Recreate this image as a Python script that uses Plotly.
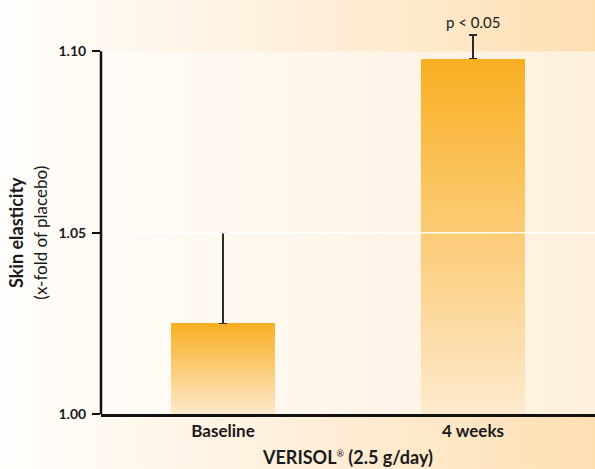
import base64
import plotly.graph_objects as go

# ---- data ----
CATEGORIES = ["Baseline", "4 weeks"]
VALUES = [1.025, 1.098]
ERR_PLUS = [0.025, 0.0065]
Y_TICKS = [1.00, 1.05, 1.10]
Y_TICK_LABELS = ["1.00", "1.05", "1.10"]
P_LABEL = "p < 0.05"
BASE = 1.0

FONT = "Lato"
TXT = "#1a1a1a"

def svg_gradient(stops, horizontal=True):
    x2, y2 = ("1", "0") if horizontal else ("0", "1")
    st = "".join(f'<stop offset="{o}" stop-color="{c}"/>' for o, c in stops)
    svg = (f'<svg xmlns="http://www.w3.org/2000/svg" width="100" height="100" '
           f'preserveAspectRatio="none"><defs><linearGradient id="g" x1="0" y1="0" '
           f'x2="{x2}" y2="{y2}">{st}</linearGradient></defs>'
           f'<rect width="100" height="100" fill="url(#g)"/></svg>')
    return "data:image/svg+xml;base64," + base64.b64encode(svg.encode()).decode()

def lerp(c1, c2, t):
    a = [int(c1[i:i+2], 16) for i in (1, 3, 5)]
    b = [int(c2[i:i+2], 16) for i in (1, 3, 5)]
    return "rgb(%d,%d,%d)" % tuple(round(a[i] + (b[i] - a[i]) * t) for i in range(3))

W, H = 595, 469
ML, MR, MT, MB = 101, 0, 15, 55
PW, PH = W - ML - MR, H - MT - MB

BAR_W = 0.416
TOP_C, BOT_C = "#f9af22", "#fde9cd"
N = 60

fig = go.Figure()
heights = [v - BASE for v in VALUES]
for k in range(N):
    t = (k + 0.5) / N
    fig.add_trace(go.Bar(
        x=CATEGORIES, y=[h / N for h in heights],
        base=[BASE + h * k / N for h in heights],
        width=BAR_W, marker=dict(color=lerp(BOT_C, TOP_C, t), line=dict(width=0)),
        hoverinfo="skip", showlegend=False))

fig.add_trace(go.Bar(
    x=CATEGORIES, y=heights, base=[BASE] * len(VALUES), width=BAR_W,
    marker=dict(color="rgba(0,0,0,0)", line=dict(width=0)), showlegend=False,
    error_y=dict(type="data", symmetric=False, array=ERR_PLUS,
                 arrayminus=[0] * len(VALUES), color="#2a2a2a",
                 thickness=1.5, width=4)))

fig.add_annotation(x=CATEGORIES[1], y=VALUES[1] + ERR_PLUS[1], xref="x", yref="y",
                   text=P_LABEL, showarrow=False, yanchor="bottom", yshift=2,
                   font=dict(family=FONT, size=15, color=TXT))

# y title
fig.add_annotation(xref="paper", yref="y", x=-(ML - 28) / PW, y=Y_TICKS[1],
                   xanchor="center", yanchor="middle", textangle=-90, showarrow=False,
                   text="<b>Skin elasticity</b><br><span style='font-size:17px'>(x-fold of placebo)</span>",
                   font=dict(family=FONT, size=18, color=TXT))

# y axis line (only from first to last tick) and white 1.05 gridline above bars
fig.add_shape(type="line", xref="x domain", yref="y", x0=0, x1=0,
              y0=Y_TICKS[0], y1=Y_TICKS[-1], line=dict(color="#111111", width=2.5),
              layer="above")
fig.add_shape(type="line", xref="x domain", yref="y", x0=0.004, x1=1,
              y0=Y_TICKS[1], y1=Y_TICKS[1], line=dict(color="rgba(255,255,255,0.9)", width=1.5),
              layer="above")

fig.update_layout(
    width=W, height=H, margin=dict(l=ML, r=MR, t=MT, b=MB, pad=0, autoexpand=False),
    paper_bgcolor="#ffffff", plot_bgcolor="rgba(0,0,0,0)",
    barmode="overlay", bargap=0, showlegend=False,
    font=dict(family=FONT, color=TXT),
    images=[
        dict(source=svg_gradient([(0, "#fffefc"), (0.45, "#fef1de"), (1, "#fddfb2")]),
             xref="paper", yref="paper", x=-ML / PW, y=1 + MT / PH,
             sizex=W / PW, sizey=H / PH, xanchor="left", yanchor="top",
             sizing="stretch", layer="below"),
        dict(source=svg_gradient([(0, "#fffbf6"), (0.5, "#fef6ea"), (1, "#fef0dd")]),
             xref="paper", yref="y", x=0, y=Y_TICKS[-1],
             sizex=1, sizey=Y_TICKS[-1] - Y_TICKS[0], xanchor="left", yanchor="top",
             sizing="stretch", layer="below"),
    ],
    xaxis=dict(range=[-0.488, 1.488], showline=True, linecolor="#111111", linewidth=2.5,
               ticks="", showgrid=False, zeroline=False, automargin=False,
               tickfont=dict(family=FONT, size=17, color=TXT, weight="bold"),
               title=dict(text="<b>VERISOL</b><sup><span style='font-size:9px'>®</span></sup><b> (2.5 g/day)</b>",
                          standoff=12, font=dict(family=FONT, size=18, color=TXT))),
    yaxis=dict(range=[BASE, 1.11], tickvals=Y_TICKS, ticktext=Y_TICK_LABELS,
               ticks="outside", ticklen=8, tickwidth=2, tickcolor="#111111",
               showline=False, showgrid=False, zeroline=False, automargin=False,
               tickfont=dict(family=FONT, size=14, color=TXT, weight="bold"),
               ticklabelstandoff=3),
)

fig.write_html("out.html", config={"displayModeBar": False},
               post_script="document.body.style.margin='0';document.body.style.overflow='hidden';")
